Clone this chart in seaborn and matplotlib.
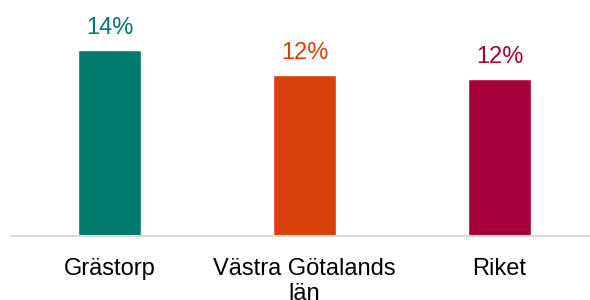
import pandas as pd
import matplotlib.pyplot as plt
import seaborn as sns

# data
omraden = ['Grästorp', 'Västra Götalands\nlän', 'Riket']
andel = [14.0, 12.1, 11.8]
farger = ['#007A6C', '#D8400E', '#A6003A']

df = pd.DataFrame({'omrade': omraden, 'andel': andel})

sns.set_style('white')
plt.rcParams['font.family'] = ['Liberation Sans', 'DejaVu Sans']

fig = plt.figure(figsize=(5.9, 3.0), dpi=100)
ax = fig.add_axes([12 / 590, 64 / 300, 578 / 590, 236 / 300])

sns.barplot(data=df, x='omrade', y='andel', hue='omrade', palette=farger,
            width=0.323, legend=False, ax=ax, saturation=1)

# procentetiketter ovanför staplarna
for i, v in enumerate(andel):
    ax.annotate(f'{v:.0f}%', (i, v), xytext=(0, 8), textcoords='offset points',
                ha='center', va='bottom', fontsize=17, color=farger[i])

ax.set_xlim(-0.5, 2.464)
ax.set_ylim(0, 236 / (186 / 14.0))
ax.set_xlabel('')
ax.set_ylabel('')
ax.set_yticks([])
ax.tick_params(axis='x', length=0, pad=16, labelsize=17, colors='black')
for lbl in ax.get_xticklabels():
    lbl.set_linespacing(1.15)
for s in ['top', 'right', 'left']:
    ax.spines[s].set_visible(False)
ax.spines['bottom'].set_color('#D9D9D9')
ax.spines['bottom'].set_linewidth(1.5)

plt.savefig('out.png', dpi=100)
